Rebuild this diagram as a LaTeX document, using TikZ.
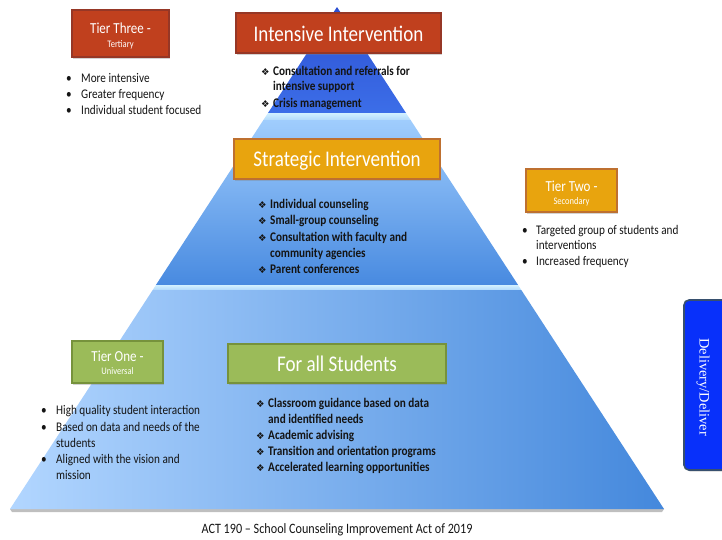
\documentclass[tikz,border=0pt]{standalone}
\usepackage{fontspec}
\setmainfont{Carlito}[FakeStretch=0.85]
\newfontfamily\djv{DejaVu Sans}
\newfontfamily\tms{Liberation Serif}
\usetikzlibrary{shadows}
\definecolor{redf}{RGB}{192,64,30}
\definecolor{redd}{RGB}{150,55,38}
\definecolor{goldf}{RGB}{232,164,14}
\definecolor{goldd}{RGB}{190,112,48}
\definecolor{greenf}{RGB}{155,187,89}
\definecolor{greend}{RGB}{118,146,60}
\definecolor{delf}{RGB}{8,48,250}
\definecolor{deld}{RGB}{55,80,110}
\definecolor{pyrA1}{RGB}{45,80,210}
\definecolor{pyrA2}{RGB}{60,110,232}
\definecolor{bandA}{RGB}{210,240,255}
\definecolor{bandB}{RGB}{178,218,252}
\definecolor{pyrB1}{RGB}{160,205,253}
\definecolor{pyrB2}{RGB}{72,138,224}
\definecolor{pyrC1}{RGB}{178,214,255}
\definecolor{pyrC2}{RGB}{68,136,220}
\definecolor{txt}{RGB}{20,20,20}
\begin{document}
\begin{tikzpicture}[x=1pt,y=-1pt,
  box/.style={draw, line width=1.6pt, inner sep=0pt,
    drop shadow={opacity=0.35, shadow xshift=1pt, shadow yshift=-1.5pt}},
  bigttl/.style={anchor=base, inner sep=0pt, text=white, font=\fontsize{22.4}{23}\selectfont},
  tierttl/.style={anchor=base, inner sep=0pt, text=white, font=\fontsize{15.3}{16}\selectfont},
  tiersub/.style={anchor=base, inner sep=0pt, text=white, font=\fontsize{10}{10}\selectfont},
  rtxt/.style={anchor=base west, inner sep=0pt, text=txt, font=\fontsize{13.2}{14}\selectfont},
  btxt/.style={anchor=base west, inner sep=0pt, text=txt, font=\bfseries\fontsize{13.2}{14}\selectfont},
  dot/.style={anchor=base west, inner sep=0pt, text=txt, font=\fontsize{13.2}{14}\selectfont},
  dia/.style={anchor=base west, inner sep=0pt, text=txt, font=\djv\fontsize{9.5}{10}\selectfont}
]
\useasboundingbox (0,0) rectangle (722,539);
\clip (0,0) rectangle (722,539);

% pyramid shadow
\fill[black, opacity=0.25] (10,509) -- (664,509) -- (662,512) -- (12,512) -- cycle;
% pyramid layers
\shade[top color=pyrA1, bottom color=pyrA2] (337,7) -- (406,113) -- (268,113) -- cycle;
\shade[top color=bandA, bottom color=bandB] (268,113) -- (406,113) -- (410.6,120) -- (263.4,120) -- cycle;
\shade[top color=pyrB1, bottom color=pyrB2] (263.4,120) -- (410.6,120) -- (518.1,285) -- (155.9,285) -- cycle;
\shade[top color=bandA, bottom color=bandB] (155.9,285) -- (518.1,285) -- (521.3,290) -- (152.7,290) -- cycle;
\shade[left color=pyrC1, right color=pyrC2] (152.7,290) -- (521.3,290) -- (664,509) -- (10,509) -- cycle;

% title boxes
\node[box, fill=redf, draw=redd, minimum width=205, minimum height=40] (ii) at (338.5,33) {};
\node[bigttl] (iit) at (338.5,41) {Intensive Intervention};
\node[box, fill=goldf, draw=goldd, minimum width=206, minimum height=40] (si) at (337,159) {};
\node[bigttl] (sit) at (337,166.5) {Strategic Intervention};
\node[box, fill=greenf, draw=greend, minimum width=218, minimum height=39] (fa) at (337,363.5) {};
\node[bigttl] (fat) at (337,371.5) {For all Students};

% tier boxes
\node[box, fill=redf, draw=redd, minimum width=97, minimum height=47] (t3) at (120.5,33.5) {};
\node[tierttl] (t3a) at (120.5,33) {Tier Three -};
\node[tiersub] (t3b) at (120.5,47.5) {Tertiary};
\node[box, fill=goldf, draw=goldd, minimum width=91, minimum height=43] (t2) at (571.5,190.5) {};
\node[tierttl] (t2a) at (571.5,191) {Tier Two -};
\node[tiersub] (t2b) at (571.5,204) {Secondary};
\node[box, fill=greenf, draw=greend, minimum width=91, minimum height=42] (t1) at (117.5,362) {};
\node[tierttl] (t1a) at (117.5,361) {Tier One -};
\node[tiersub] (t1b) at (117.5,374.5) {Universal};

% delivery tab
\draw[fill=delf, draw=deld, line width=1.6pt, rounded corners=5pt,
  drop shadow={opacity=0.35, shadow xshift=1pt, shadow yshift=-1.5pt}]
  (684,300) rectangle (735,470);
\node[inner sep=0pt, text=white, rotate=-90, font=\tms\fontsize{14.4}{15}\selectfont] (del) at (703,387) {Delivery/Deliver};

% tier three list
\node[dot] (d3a) at (66,82) {•};
\node[rtxt] (l3a) at (81,82) {More intensive};
\node[dot] (d3b) at (66,98) {•};
\node[rtxt] (l3b) at (81,98) {Greater frequency};
\node[dot] (d3c) at (66,114) {•};
\node[rtxt] (l3c) at (81,114) {Individual student focused};

% intensive list
\node[dia] (ia) at (261,75) {❖};
\node[btxt] (iat) at (273,75) {Consultation and referrals for};
\node[btxt] (iat2) at (273,90) {intensive support};
\node[dia] (ib) at (261,107) {❖};
\node[btxt] (ibt) at (273,107) {Crisis management};

% strategic list
\node[dia] (sa) at (258,208) {❖};
\node[btxt] (sat) at (270,208) {Individual counseling};
\node[dia] (sb) at (258,224) {❖};
\node[btxt] (sbt) at (270,224) {Small-group counseling};
\node[dia] (sc) at (258,241) {❖};
\node[btxt] (sct) at (270,241) {Consultation with faculty and};
\node[btxt] (sct2) at (270,257) {community agencies};
\node[dia] (sd) at (258,273) {❖};
\node[btxt] (sdt) at (270,273) {Parent conferences};

% tier two list
\node[dot] (d2a) at (522,234) {•};
\node[rtxt] (l2a) at (536,234) {Targeted group of students and};
\node[rtxt] (l2a2) at (536,249) {interventions};
\node[dot] (d2b) at (522,265) {•};
\node[rtxt] (l2b) at (536,265) {Increased frequency};

% tier one list
\node[dot] (d1a) at (41,414) {•};
\node[rtxt] (l1a) at (56,414) {High quality student interaction};
\node[dot] (d1b) at (41,431) {•};
\node[rtxt] (l1b) at (56,431) {Based on data and needs of the};
\node[rtxt] (l1b2) at (56,447) {students};
\node[dot] (d1c) at (41,463) {•};
\node[rtxt] (l1c) at (56,463) {Aligned with the vision and};
\node[rtxt] (l1c2) at (56,479) {mission};

% for all list
\node[dia] (fa1) at (256,407) {❖};
\node[btxt] (fa1t) at (268,407) {Classroom guidance based on data};
\node[btxt] (fa1t2) at (268,423) {and identified needs};
\node[dia] (fa2) at (256,439) {❖};
\node[btxt] (fa2t) at (268,439) {Academic advising};
\node[dia] (fa3) at (256,455) {❖};
\node[btxt] (fa3t) at (268,455) {Transition and orientation programs};
\node[dia] (fa4) at (256,471) {❖};
\node[btxt] (fa4t) at (268,471) {Accelerated learning opportunities};

% caption
\node[anchor=base, inner sep=0pt, text=txt, font=\fontsize{14.3}{15}\selectfont] (cap) at (337,533) {ACT 190 – School Counseling Improvement Act of 2019};
\end{tikzpicture}
\end{document}
